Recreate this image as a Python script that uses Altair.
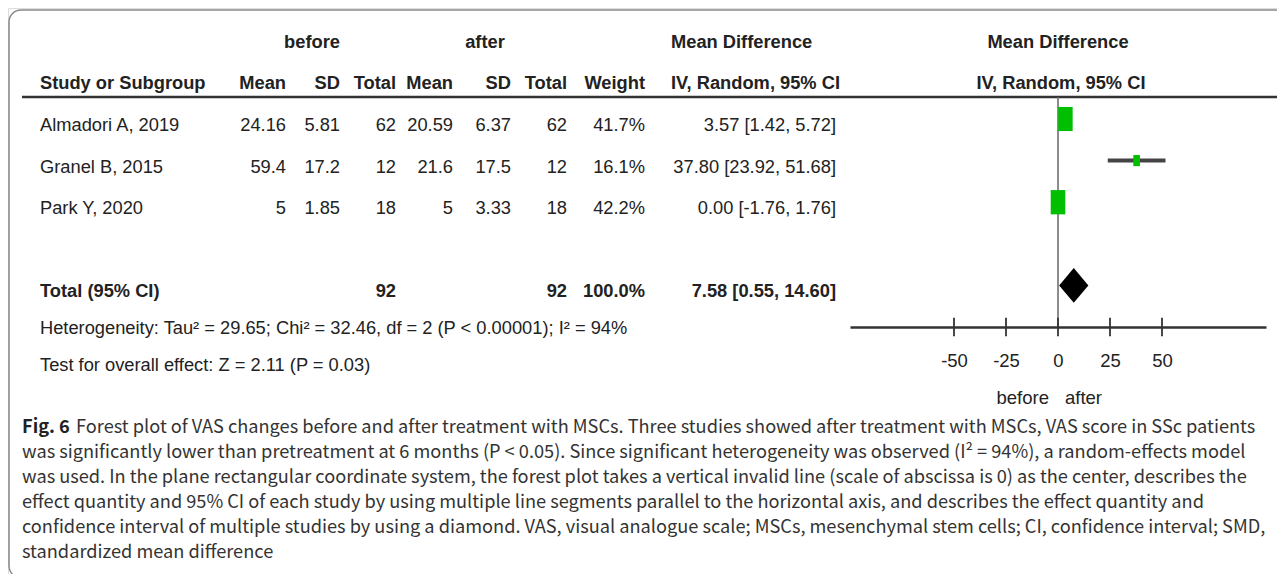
import altair as alt
import pandas as pd

# ---------------- data ----------------
studies = ["Almadori A, 2019", "Granel B, 2015", "Park Y, 2020"]
before_mean = [24.16, 59.4, 5]
before_sd = [5.81, 17.2, 1.85]
before_total = [62, 12, 18]
after_mean = [20.59, 21.6, 5]
after_sd = [6.37, 17.5, 3.33]
after_total = [62, 12, 18]
weight = [41.7, 16.1, 42.2]
md = [3.57, 37.80, 0.00]
ci_low = [1.42, 23.92, -1.76]
ci_high = [5.72, 51.68, 1.76]

total_label = "Total (95% CI)"
total_before = 92
total_after = 92
total_weight = 100.0
total_md = 7.58
total_low = 0.55
total_high = 14.60

heterogeneity = "Heterogeneity: Tau² = 29.65; Chi² = 32.46, df = 2 (P < 0.00001); I² = 94%"
overall_effect = "Test for overall effect: Z = 2.11 (P = 0.03)"

axis_ticks = [-50, -25, 0, 25, 50]
axis_domain = [-100, 100]
null_effect = 0
favours = ["before", "after"]

group_headers = ["before", "after", "Mean Difference", "Mean Difference"]
col_headers = ["Study or Subgroup", "Mean", "SD", "Total", "Mean", "SD", "Total",
               "Weight", "IV, Random, 95% CI", "IV, Random, 95% CI"]

caption_bold = "Fig. 6"
caption_lines = [
    "Forest plot of VAS changes before and after treatment with MSCs. Three studies showed after treatment with MSCs, VAS score in SSc patients",
    "was significantly lower than pretreatment at 6 months (P < 0.05). Since significant heterogeneity was observed (I² = 94%), a random-effects model",
    "was used. In the plane rectangular coordinate system, the forest plot takes a vertical invalid line (scale of abscissa is 0) as the center, describes the",
    "effect quantity and 95% CI of each study by using multiple line segments parallel to the horizontal axis, and describes the effect quantity and",
    "confidence interval of multiple studies by using a diamond. VAS, visual analogue scale; MSCs, mesenchymal stem cells; CI, confidence interval; SMD,",
    "standardized mean difference",
]

# ---------------- layout ----------------
W, H = 1269, 566
PAGE = 8
FONT = "Liberation Sans, Arial, sans-serif"
CAP_FONT = "Noto Sans CJK SC, Liberation Sans, sans-serif"
TSIZE = 18.3
CSIZE = 18.2
TXT = "#222222"
GREEN = "#00bf00"

ROW0 = 111.0      # chart y of study row 0 (marker centre)
ROWH = 41.6       # row pitch
TEXT_DY = 7       # table text sits a little below the marker centre
y_top = -ROW0 / ROWH
y_bot = (H - ROW0) / ROWH
yscale = alt.Scale(domain=[y_top, y_bot], reverse=True, nice=False, zero=False)


def cx(page_x):
    return page_x - PAGE


# column anchors (page x)
COL = dict(name=40, b_mean=286, b_sd=340, b_tot=396, a_mean=453, a_sd=511,
           a_tot=567, weight=645, ci=836, ci_head=671, plot=1061)

UNDERLINE_ROW = -0.53
AXIS_ROW = 5.0
TICK_HALF = 0.22
FAV_ROW = 6.71
DIAMOND_HALF = 0.42
TOTAL_ROW = 4
HET_ROW = 4.88
TEST_ROW = 5.78

fscale = alt.Scale(domain=axis_domain, range=[cx(850), cx(1266)], nice=False, zero=False)

# ---------------- table texts ----------------
texts = []


def add(text, page_x, row, align, bold=False):
    texts.append(dict(text=str(text), px=cx(page_x), row=row, align=align, bold=bold))


add(group_headers[0], 312, -2, "center", True)
add(group_headers[1], 485, -2, "center", True)
add(group_headers[2], COL["ci_head"], -2, "left", True)
add(group_headers[3], 1058, -2, "center", True)

add(col_headers[0], COL["name"], -1, "left", True)
for h, k in zip(col_headers[1:8], ["b_mean", "b_sd", "b_tot", "a_mean", "a_sd", "a_tot", "weight"]):
    add(h, COL[k], -1, "right", True)
add(col_headers[8], COL["ci_head"], -1, "left", True)
add(col_headers[9], COL["plot"], -1, "center", True)

for i, s in enumerate(studies):
    add(s, COL["name"], i, "left")
    add(before_mean[i], COL["b_mean"], i, "right")
    add(before_sd[i], COL["b_sd"], i, "right")
    add(before_total[i], COL["b_tot"], i, "right")
    add(after_mean[i], COL["a_mean"], i, "right")
    add(after_sd[i], COL["a_sd"], i, "right")
    add(after_total[i], COL["a_tot"], i, "right")
    add(f"{weight[i]:.1f}%", COL["weight"], i, "right")
    add(f"{md[i]:.2f} [{ci_low[i]:.2f}, {ci_high[i]:.2f}]", COL["ci"], i, "right")

add(total_label, COL["name"], TOTAL_ROW, "left", True)
add(total_before, COL["b_tot"], TOTAL_ROW, "right", True)
add(total_after, COL["a_tot"], TOTAL_ROW, "right", True)
add(f"{total_weight:.1f}%", COL["weight"], TOTAL_ROW, "right", True)
add(f"{total_md:.2f} [{total_low:.2f}, {total_high:.2f}]", COL["ci"], TOTAL_ROW, "right", True)
add(heterogeneity, COL["name"], HET_ROW, "left")
add(overall_effect, COL["name"], TEST_ROW, "left")

tdf = pd.DataFrame(texts)

x_tab = alt.X("px:Q", scale=alt.Scale(domain=[0, W], nice=False, zero=False), axis=None)
y_row = alt.Y("row:Q", scale=yscale, axis=None)

text_layers = []
for (align, bold), sub in tdf.groupby(["align", "bold"]):
    text_layers.append(
        alt.Chart(sub).mark_text(
            align=align, baseline="middle", font=FONT, fontSize=TSIZE,
            fontWeight="bold" if bold else "normal", color=TXT, dy=TEXT_DY,
        ).encode(x=x_tab, y=y_row, text="text:N")
    )

# caption
CAP_ROW0 = (428 - PAGE - ROW0) / ROWH
CAP_STEP = 25.0 / ROWH
cap = pd.DataFrame(dict(
    text=caption_lines,
    px=[cx(76)] + [cx(22)] * (len(caption_lines) - 1),
    row=[CAP_ROW0 + k * CAP_STEP for k in range(len(caption_lines))],
))
cap_layer = alt.Chart(cap).mark_text(
    align="left", baseline="middle", font=CAP_FONT, fontSize=CSIZE, color="#333333"
).encode(x=x_tab, y=y_row, text="text:N")
cap_bold = alt.Chart(pd.DataFrame(dict(text=[caption_bold], px=[cx(22)], row=[CAP_ROW0]))).mark_text(
    align="left", baseline="middle", font=CAP_FONT, fontSize=CSIZE, fontWeight="bold", color="#222222"
).encode(x=x_tab, y=y_row, text="text:N")

underline = alt.Chart(pd.DataFrame(dict(a=[cx(22)], b=[cx(1280)], row=[UNDERLINE_ROW]))).mark_rule(
    color="#333333", strokeWidth=2.5
).encode(x=alt.X("a:Q", scale=alt.Scale(domain=[0, W], nice=False, zero=False), axis=None),
         x2="b:Q", y=y_row)

frame = alt.Chart(pd.DataFrame(dict(k=[0]))).mark_rect(
    filled=False, stroke="#888888", strokeWidth=1.5, cornerRadius=12
).encode(x=alt.value(1), x2=alt.value(W + 40), y=alt.value(2), y2=alt.value(H + 4))

table = alt.layer(frame, underline, *text_layers, cap_layer, cap_bold)

# ---------------- forest plot ----------------
faxis = alt.Axis(values=axis_ticks, ticks=False, domain=True, domainColor="#333333",
                 domainWidth=2.5, labelFont=FONT, labelFontSize=18.5, labelColor=TXT,
                 labelPadding=24, labelExpr="'' + datum.value", grid=False, title=None,
                 offset=(ROW0 + AXIS_ROW * ROWH) - H)

sdf = pd.DataFrame(dict(study=studies, md=md, lo=ci_low, hi=ci_high, weight=weight,
                        row=list(range(len(studies)))))

zero_line = alt.Chart(pd.DataFrame(dict(x=[null_effect], r1=[UNDERLINE_ROW], r2=[AXIS_ROW]))).mark_rule(
    color="#666666", strokeWidth=1.5
).encode(x=alt.X("x:Q", scale=fscale, axis=faxis), y=alt.Y("r1:Q", scale=yscale, axis=None), y2="r2:Q")

ci_rules = alt.Chart(sdf).mark_rule(color="#444444", strokeWidth=4).encode(
    x=alt.X("lo:Q", scale=fscale, axis=faxis), x2="hi:Q", y=y_row)

RECT = "M-0.6,-1L0.6,-1L0.6,1L-0.6,1Z"
squares = alt.Chart(sdf).mark_point(shape=RECT, filled=True, color=GREEN, opacity=1, strokeWidth=0).encode(
    x=alt.X("md:Q", scale=fscale, axis=faxis), y=y_row,
    size=alt.Size("weight:Q", scale=alt.Scale(domain=[12, 45], range=[50, 640]), legend=None))

ddf = pd.DataFrame(dict(x=[total_low, total_md, total_high],
                        r1=[TOTAL_ROW, TOTAL_ROW - DIAMOND_HALF, TOTAL_ROW],
                        r2=[TOTAL_ROW, TOTAL_ROW + DIAMOND_HALF, TOTAL_ROW]))
diamond = alt.Chart(ddf).mark_area(color="black", opacity=1).encode(
    x=alt.X("x:Q", scale=fscale, axis=faxis), y=alt.Y("r1:Q", scale=yscale, axis=None), y2="r2:Q")

tdf2 = pd.DataFrame(dict(t=axis_ticks, r1=[AXIS_ROW - TICK_HALF] * len(axis_ticks),
                         r2=[AXIS_ROW + TICK_HALF] * len(axis_ticks)))
ticks = alt.Chart(tdf2).mark_rule(color="#333333", strokeWidth=1.8).encode(
    x=alt.X("t:Q", scale=fscale, axis=faxis), y=alt.Y("r1:Q", scale=yscale, axis=None), y2="r2:Q")

fav_b = alt.Chart(pd.DataFrame(dict(x=[null_effect], row=[FAV_ROW], text=[favours[0]]))).mark_text(
    align="right", baseline="middle", font=FONT, fontSize=18.5, color=TXT, dx=-9
).encode(x=alt.X("x:Q", scale=fscale, axis=faxis), y=y_row, text="text:N")
fav_a = alt.Chart(pd.DataFrame(dict(x=[null_effect], row=[FAV_ROW], text=[favours[1]]))).mark_text(
    align="left", baseline="middle", font=FONT, fontSize=18.5, color=TXT, dx=7
).encode(x=alt.X("x:Q", scale=fscale, axis=faxis), y=y_row, text="text:N")

forest = alt.layer(zero_line, ci_rules, squares, diamond, ticks, fav_b, fav_a)

chart = alt.layer(table, forest).resolve_scale(x="independent").properties(
    width=W, height=H, autosize=alt.AutoSizeParams(type="none"), padding=0
).configure_view(stroke=None).configure(background="white")

chart.save("out.html", embed_options={"renderer": "svg", "actions": False})
